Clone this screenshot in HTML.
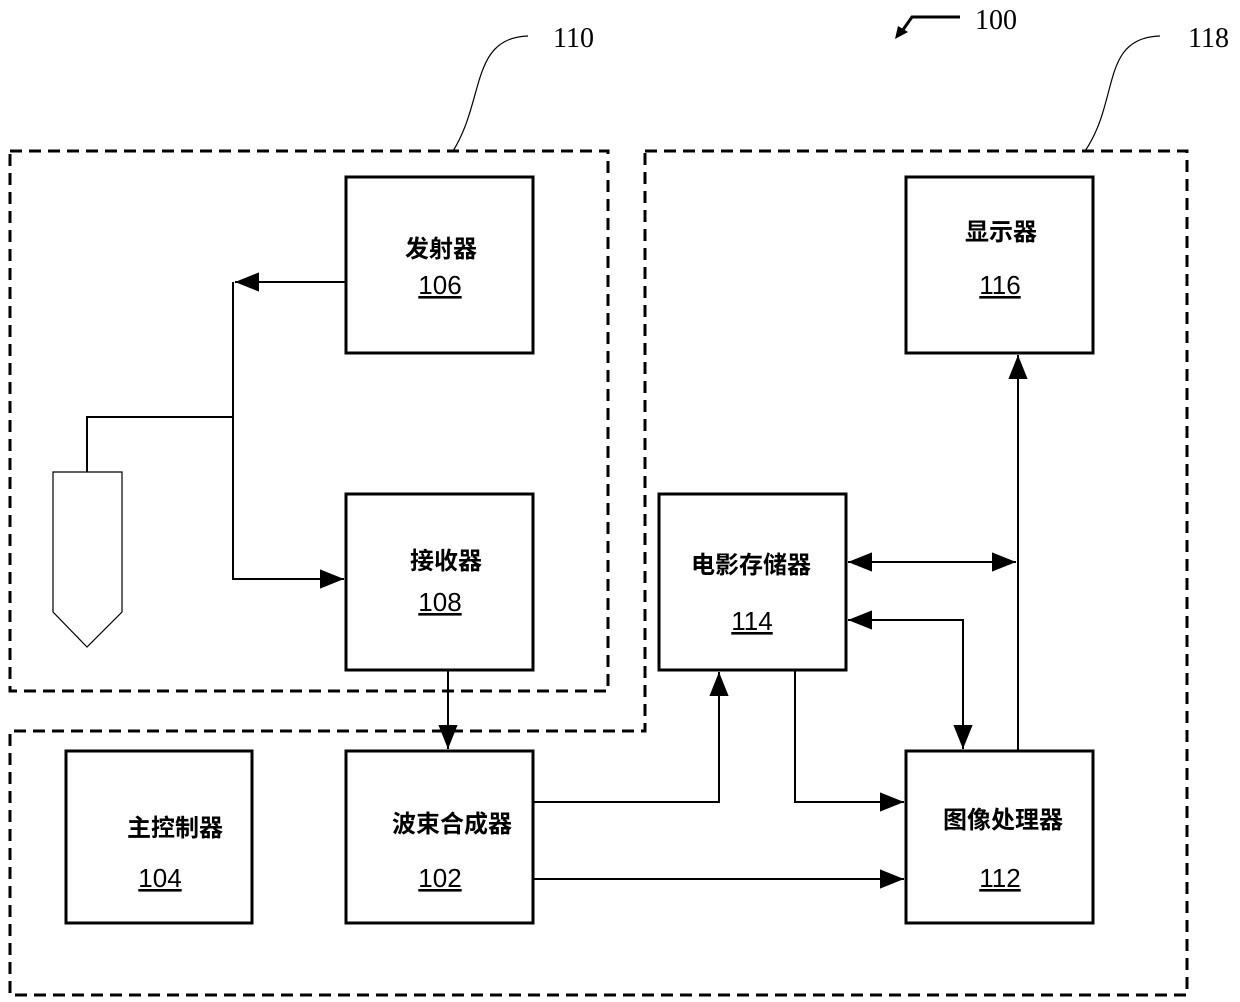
<!DOCTYPE html>
<html><head><meta charset="utf-8"><style>
html,body{margin:0;padding:0;background:#fff;}
svg{display:block;}
text{font-family:"Liberation Sans","Noto Sans CJK SC",sans-serif;font-size:24px;fill:#000;}
.c{font-weight:bold;}
.n{text-decoration:underline;font-size:26px;}
.s{font-family:"Liberation Serif",serif;font-size:28px;}
</style></head><body>
<svg width="1240" height="1002" viewBox="0 0 1240 1002" xmlns="http://www.w3.org/2000/svg">
<defs>
<marker id="b" viewBox="0 0 10 10" refX="10" refY="5" markerWidth="24" markerHeight="24" markerUnits="userSpaceOnUse" orient="auto-start-reverse">
<path d="M0,1 L10,5 L0,9 z" fill="#000"/></marker>
</defs>
<g fill="none" stroke="#000" stroke-width="3" stroke-dasharray="12,7">
<rect x="10" y="151" width="598" height="540"/>
<path d="M645,151 H1187 V995 H10 V731 H645 Z"/>
</g>
<g fill="none" stroke="#000" stroke-width="1.2">
<path d="M453,151 C485,100 470,38 528,36"/>
<path d="M1085,151 C1120,100 1100,38 1160,36"/>
</g>
<path d="M960,17 L912,17 L900,34" fill="none" stroke="#000" stroke-width="3"/>
<path d="M895,39 L898,26 L908,32 z" fill="#000"/>
<text class="s" x="553" y="47">110</text>
<text class="s" x="975" y="29">100</text>
<text class="s" x="1188" y="47">118</text>
<g fill="#fff" stroke="#000" stroke-width="3">
<rect x="346" y="177" width="187" height="176"/>
<rect x="346" y="494" width="187" height="176"/>
<rect x="906" y="177" width="187" height="176"/>
<rect x="659" y="494" width="187" height="176"/>
<rect x="66" y="751" width="186" height="172"/>
<rect x="346" y="751" width="187" height="172"/>
<rect x="906" y="751" width="187" height="172"/>
</g>
<polygon points="53,472 122,472 122,612 87,647 53,612" fill="none" stroke="#000" stroke-width="1.2"/>
<g fill="none" stroke="#000" stroke-width="2">
<path d="M346,282 H235" marker-end="url(#b)"/>
<path d="M233,282 V579 H344" marker-end="url(#b)"/>
<path d="M87,472 V417 H233"/>
<path d="M448,670 V749" marker-end="url(#b)"/>
<path d="M533,802 H719 V672" marker-end="url(#b)"/>
<path d="M533,879 H904" marker-end="url(#b)"/>
<path d="M795,670 V802 H904" marker-end="url(#b)"/>
<path d="M848,562 H1016" marker-start="url(#b)" marker-end="url(#b)"/>
<path d="M848,620 H963 V749" marker-start="url(#b)" marker-end="url(#b)"/>
<path d="M1018,751 V355" marker-end="url(#b)"/>
</g>
<g text-anchor="middle">
<text class="c" x="441" y="257">发射器</text><text class="n" x="440" y="294">106</text>
<text class="c" x="446" y="569">接收器</text><text class="n" x="440" y="611">108</text>
<text class="c" x="1001" y="240">显示器</text><text class="n" x="1000" y="294">116</text>
<text class="c" x="751" y="573">电影存储器</text><text class="n" x="752" y="630">114</text>
<text class="c" x="175" y="836">主控制器</text><text class="n" x="160" y="887">104</text>
<text class="c" x="452" y="832">波束合成器</text><text class="n" x="440" y="887">102</text>
<text class="c" x="1003" y="828">图像处理器</text><text class="n" x="1000" y="887">112</text>
</g>
</svg>
</body></html>
